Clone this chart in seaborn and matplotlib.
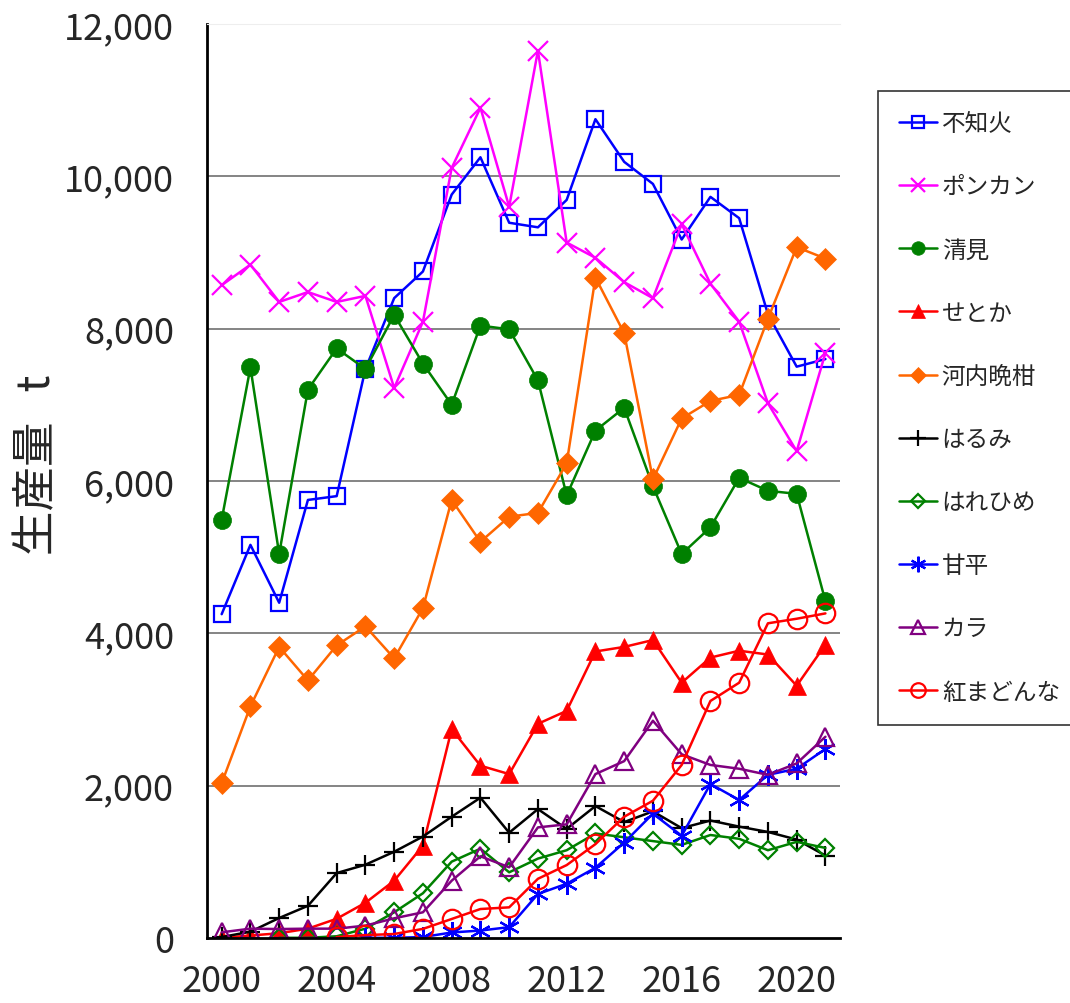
import matplotlib
matplotlib.use("Agg")
import matplotlib.pyplot as plt
import numpy as np
import pandas as pd
import seaborn as sns
from matplotlib.ticker import FixedLocator, FuncFormatter

years = list(range(2000, 2022))

shiranui = [4250, 5160, 4400, 5750, 5800, 7470, 8400, 8750, 9760, 10250, 9390,
            9330, 9690, 10750, 10190, 9900, 9170, 9730, 9450, 8190, 7500, 7600]
ponkan = [8570, 8840, 8350, 8480, 8350, 8430, 7220, 8090, 10110, 10900, 9600,
          11650, 9130, 8930, 8610, 8400, 9370, 8590, 8090, 7020, 6390, 7680]
kiyomi = [5490, 7490, 5040, 7200, 7740, 7470, 8180, 7540, 7000, 8040, 7990,
          7320, 5810, 6660, 6960, 5930, 5040, 5390, 6040, 5870, 5830, 4420]
setoka = [0, 30, 60, 120, 250, 460, 750, 1210, 2740, 2260, 2150,
          2810, 2980, 3760, 3820, 3910, 3350, 3680, 3770, 3720, 3310, 3850]
kawachi = [2030, 3040, 3820, 3380, 3840, 4090, 3670, 4330, 5750, 5200, 5530,
           5580, 6230, 8670, 7940, 6020, 6820, 7050, 7130, 8130, 9070, 8920]
harumi = [10, 80, 260, 420, 850, 960, 1130, 1330, 1590, 1840, 1380,
          1690, 1430, 1730, 1520, 1660, 1440, 1540, 1460, 1390, 1290, 1080]
harehime = [None, None, 0, 0, 20, 120, 335, 585, 1000, 1170, 860,
            1040, 1150, 1370, 1320, 1270, 1220, 1350, 1300, 1150, 1260, 1180]
kanpei = [None, None, None, None, None, 0, 0, 10, 70, 95, 140,
          575, 710, 920, 1250, 1630, 1340, 2020, 1810, 2140, 2220, 2480]
kara = [72, 120, 115, 120, 120, 160, 256, 335, 750, 1070, 926,
        1450, 1490, 2150, 2320, 2850, 2410, 2270, 2220, 2140, 2290, 2640]
benimadonna = [None, None, None, None, 10, 35, 50, 117, 247, 378, 400,
               775, 955, 1230, 1590, 1800, 2270, 3110, 3350, 4130, 4190, 4260]

series = [
    ("不知火", shiranui, "#0000ff", "s", 12, False),
    ("ポンカン", ponkan, "#ff00ff", "x", 14, True),
    ("清見", kiyomi, "#008000", "o", 13, True),
    ("せとか", setoka, "#ff0000", "^", 13, True),
    ("河内晩柑", kawachi, "#ff6600", "D", 11, True),
    ("はるみ", harumi, "#000000", "+", 15, True),
    ("はれひめ", harehime, "#008000", "D", 9, False),
    ("甘平", kanpei, "#0000ff", (6, 2, 0), 15, True),
    ("カラ", kara, "#800080", "^", 13, False),
    ("紅まどんな", benimadonna, "#ff0000", "o", 14, False),
]

sns.set_style("white")
plt.rcParams["font.family"] = ["Noto Sans CJK JP", "DejaVu Sans"]

fig = plt.figure(figsize=(10.7, 10.04), dpi=100)
ax = fig.add_axes([207.3 / 1070, 1 - 938.8 / 1004, (839.8 - 207.3) / 1070, (938.8 - 25) / 1004])

for name, vals, color, marker, ms, filled in series:
    df = pd.DataFrame({"year": years, "value": vals}).dropna()
    sns.lineplot(
        data=df, x="year", y="value", ax=ax, color=color, linewidth=1.8,
        marker=marker, markersize=ms,
        markerfacecolor=color if filled else "none",
        markeredgecolor=color,
        markeredgewidth=1.6 if not filled or marker in ("x", "+", (6, 2, 0)) else 0.5,
        label=name, errorbar=None,
    )

ax.set_xlim(1999.5, 2021.5)
ax.set_ylim(0, 12000)
ax.xaxis.set_major_locator(FixedLocator([2000, 2004, 2008, 2012, 2016, 2020]))
ax.xaxis.set_minor_locator(FixedLocator(np.arange(1999.5, 2022, 1.0)))
ax.set_yticks(range(0, 12001, 2000))
ax.yaxis.set_major_formatter(FuncFormatter(lambda v, p: f"{int(v):,}"))

ax.tick_params(axis="x", which="major", length=0, labelsize=26, pad=18)
ax.tick_params(axis="x", which="minor", direction="in", length=11, width=1.8, color="black")
ax.tick_params(axis="y", which="major", direction="in", length=12, width=1.8,
               labelsize=26, pad=24, color="black")
ax.set_xlabel("")
ax.set_ylabel("")

# gridlines only between the ends of the axis
for yv in range(2000, 12000, 2000):
    ax.axhline(yv, color="#707070", linewidth=1.2, zorder=0)

ax.spines["left"].set_linewidth(2)
ax.spines["bottom"].set_linewidth(2)
ax.spines["left"].set_color("black")
ax.spines["bottom"].set_color("black")
ax.spines["right"].set_visible(False)
ax.spines["top"].set_color("#eeeeee")

fig.text(37 / 1070, 1 - 555 / 1004, "生産量   t", rotation=90, ha="center", va="bottom", fontsize=32)

leg = ax.legend(
    loc="upper left", bbox_to_anchor=(878 / 1070, 1 - 92 / 1004), bbox_transform=fig.transFigure,
    fontsize=17, frameon=True, fancybox=False, edgecolor="black", labelspacing=1.7,
    handlelength=1.6, handletextpad=0.2, borderpad=0.9, borderaxespad=0,
)
leg.get_frame().set_linewidth(1.2)
for h in leg.legend_handles:
    h.set_markersize(h.get_markersize() * 0.75)

fig.savefig("out.png", dpi=100)
